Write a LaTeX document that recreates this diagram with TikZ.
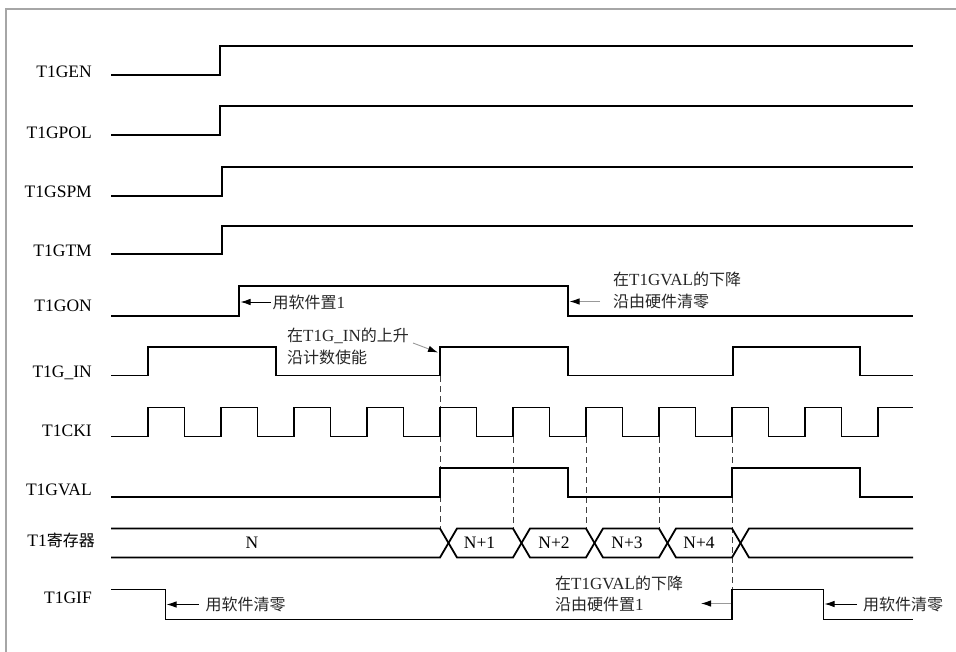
\documentclass[tikz,border=0pt]{standalone}
\usepackage{fontspec}
\setmainfont{Liberation Serif}
\newfontfamily\cjkfont{Noto Sans CJK SC}
\newcommand\zhtext[1]{{\fontsize{16}{20}\selectfont\cjkfont #1}}
\usetikzlibrary{arrows.meta}
\begin{document}
\begin{tikzpicture}[x=1pt,y=-1pt,
  wave/.style={line width=1.8pt,black,line join=miter},
  guide/.style={line width=0.9pt,black!75,dash pattern=on 6pt off 4pt},
  sig/.style={anchor=base east,inner sep=0pt,font=\fontsize{17.5}{20}\selectfont},
  note/.style={anchor=west,inner sep=0pt,text=black!85,font=\fontsize{17}{20}\selectfont},
  val/.style={inner sep=0pt,font=\fontsize{17.5}{20}\selectfont},
  ptr/.style={line width=0.9pt,-{Latex[length=10pt,width=6.5pt]}},
  gptr/.style={line width=0.9pt,black!40,-{Latex[length=10pt,width=6.5pt,black]}}]
\useasboundingbox (0,0) rectangle (956,652);
% frame
\draw[line width=1.4pt,black!35] (6,652) -- (6,9) -- (956,9);

% signal names
\node[sig] (lgen) at (92,77.5) {T1GEN};
\node[sig] (lpol) at (92,138.5) {T1GPOL};
\node[sig] (lspm) at (92,197.5) {T1GSPM};
\node[sig] (ltm)  at (92,256.5) {T1GTM};
\node[sig] (lon)  at (92,311.5) {T1GON};
\node[sig] (lin)  at (92,377.5) {T1G\_IN};
\node[sig] (lcki) at (92,436.5) {T1CKI};
\node[sig] (lval) at (92,495.5) {T1GVAL};
\node[sig] (lreg) at (95,546.5) {T1\zhtext{寄存器}};
\node[sig] (lgif) at (92,603.5) {T1GIF};

% dashed guides
\draw[guide] (440,376) -- (440,528);
\draw[guide] (513,437) -- (513,528);
\draw[guide] (586,437) -- (586,528);
\draw[guide] (659,437) -- (659,528);
\draw[guide] (732,437) -- (732,589);

% waveforms
\draw[wave] (111,75) -- (220,75) -- (220,46) -- (913,46);
\draw[wave] (111,135) -- (220,135) -- (220,106) -- (913,106);
\draw[wave] (111,196) -- (222,196) -- (222,167) -- (913,167);
\draw[wave] (111,254) -- (222,254) -- (222,226) -- (913,226);
\draw[wave] (111,316) -- (239,316) -- (239,286) -- (568,286) -- (568,316) -- (913,316);
\draw[wave] (111,375.5) -- (148,375.5) -- (148,347) -- (276,347) -- (276,375.5)
  -- (440,375.5) -- (440,347) -- (568,347) -- (568,375.5) -- (733,375.5)
  -- (733,347) -- (860,347) -- (860,375.5) -- (913,375.5);
\draw[wave] (111,436.5) -- (148,436.5)
  \foreach \k in {1,...,10} { -- ++(0,-29) -- ++(36.5,0) -- ++(0,29) -- ++(36.5,0) }
  -- ++(0,-29) -- (913,407.5);
\draw[wave] (111,497) -- (440,497) -- (440,468) -- (568,468) -- (568,497)
  -- (732,497) -- (732,468) -- (860,468) -- (860,497) -- (913,497);
% register bus
\draw[wave] (111,528.5) -- (440,528.5) -- (457,557.5) -- (513,557.5) -- (530,528.5)
  -- (586,528.5) -- (603,557.5) -- (659,557.5) -- (676,528.5) -- (732,528.5)
  -- (749,557.5) -- (913,557.5);
\draw[wave] (111,557.5) -- (440,557.5) -- (457,528.5) -- (513,528.5) -- (530,557.5)
  -- (586,557.5) -- (603,528.5) -- (659,528.5) -- (676,557.5) -- (732,557.5)
  -- (749,528.5) -- (913,528.5);
\node[val] (vn)  at (252,543) {N};
\node[val] (vn1) at (479.5,543) {N+1};
\node[val] (vn2) at (554,543) {N+2};
\node[val] (vn3) at (627,543) {N+3};
\node[val] (vn4) at (699,543) {N+4};
% T1GIF
\draw[wave] (111,589.5) -- (165.5,589.5) -- (165.5,619.5) -- (732,619.5) -- (732,589.5)
  -- (823.5,589.5) -- (823.5,619.5) -- (913,619.5);

% annotations
\node[note] (a1) at (272.5,302) {\zhtext{用软件置}1};
\coordinate (a1tip) at (240.5,302);
\draw[ptr] (a1.west) ++(-2,0) -- (a1tip);

\node[note] (a2a) at (613,279.5) {\zhtext{在}T1GVAL\zhtext{的下降}};
\node[note] (a2b) at (613,301) {\zhtext{沿由硬件清零}};
\coordinate (a2s) at (600,301.5);
\coordinate (a2tip) at (569.5,301.5);
\draw[gptr] (a2s) -- (a2tip);

\node[note] (a3a) at (287,336) {\zhtext{在}T1G\_IN\zhtext{的上升}};
\node[note] (a3b) at (287,357) {\zhtext{沿计数使能}};
\coordinate (a3s) at (413,343);
\coordinate (a3tip) at (438,352.5);
\draw[gptr] (a3s) -- (a3tip);

\node[note] (a4) at (205.5,604.5) {\zhtext{用软件清零}};
\coordinate (a4tip) at (166.5,604.5);
\draw[ptr] (a4.west) ++(-7,0) -- (a4tip);

\node[note] (a5a) at (555,583) {\zhtext{在}T1GVAL\zhtext{的下降}};
\node[note] (a5b) at (555,604) {\zhtext{沿由硬件置}1};
\coordinate (a5s) at (731,603.5);
\coordinate (a5tip) at (701,603.5);
\draw[gptr] (a5s) -- (a5tip);

\node[note] (a6) at (863,604) {\zhtext{用软件清零}};
\coordinate (a6tip) at (824.5,604);
\draw[ptr] (a6.west) ++(-6,0) -- (a6tip);
\end{tikzpicture}
\end{document}
